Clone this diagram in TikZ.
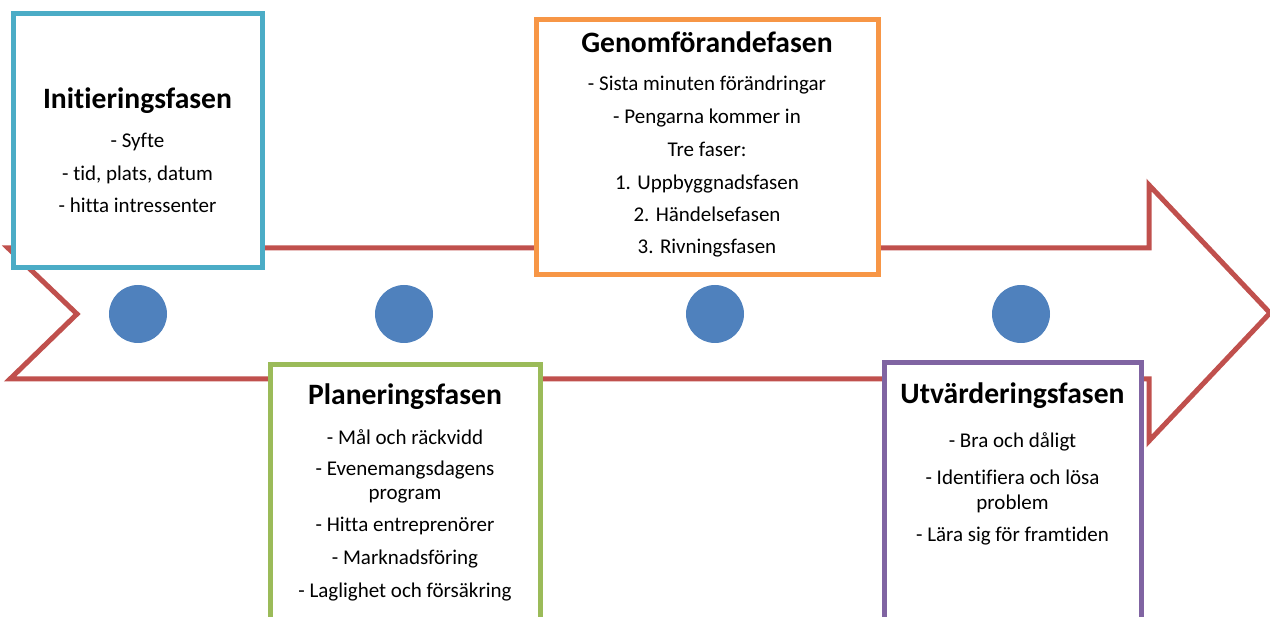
\documentclass[tikz,border=0pt]{standalone}
\usepackage{fontspec}
\setmainfont[Ligatures={NoCommon}]{Carlito}
\definecolor{cCyan}{HTML}{4BACC6}
\definecolor{cOrange}{HTML}{F79646}
\definecolor{cGreen}{HTML}{9BBB59}
\definecolor{cPurple}{HTML}{8064A2}
\definecolor{cRed}{HTML}{C0504D}
\definecolor{cBlue}{HTML}{4F81BD}
\begin{document}
\begin{tikzpicture}[x=1pt,y=-1pt,
  arrowline/.style={draw=cRed,line width=5pt,line join=miter},
  phasebox/.style={draw,fill=white,line width=5pt,rectangle,inner sep=0pt},
  dot/.style={circle,fill=cBlue,minimum size=58pt,inner sep=0pt},
  ttl/.style={anchor=base,font=\fontsize{29.6}{34}\selectfont\bfseries,inner sep=0pt},
  itm/.style={anchor=base,font=\fontsize{21}{24}\selectfont,inner sep=0pt}]
\useasboundingbox (0,0) rectangle (1270,617);
% big arrow
\coordinate (a1) at (8,248);
\coordinate (a2) at (1149,248);
\coordinate (a3) at (1149,185);
\coordinate (a4) at (1270,313);
\coordinate (a5) at (1149,441);
\coordinate (a6) at (1149,379);
\coordinate (a7) at (10,379);
\coordinate (a8) at (77,314);
\draw[arrowline] (a1) -- (a2) -- (a3) -- (a4) -- (a5) -- (a6) -- (a7) -- (a8) -- cycle;
% boxes
\node[phasebox,draw=cCyan,minimum width=248.5pt,minimum height=254pt] (init) at (137.75,141) {};
\node[phasebox,draw=cOrange,minimum width=342pt,minimum height=255pt] (genom) at (707,147.5) {};
\node[phasebox,draw=cGreen,minimum width=270pt,minimum height=275pt] (plan) at (405,502.5) {};
\node[phasebox,draw=cPurple,minimum width=257pt,minimum height=277pt] (utv) at (1012.5,501.5) {};
% dots
\node[dot] (d1) at (138,314) {};
\node[dot] (d2) at (404,314) {};
\node[dot] (d3) at (715,314) {};
\node[dot] (d4) at (1021,314) {};
% Initieringsfasen
\node[ttl] (t1) at (137.5,109) {Initieringsfasen};
\node[itm] (i1) at (137.5,148) {- Syfte};
\node[itm] (i2) at (137.5,180.5) {- tid, plats, datum};
\node[itm] (i3) at (137.5,213) {- hitta intressenter};
% Genomforandefasen
\node[ttl] (t2) at (707,53) {Genomförandefasen};
\node[itm] (g1) at (707,91) {- Sista minuten förändringar};
\node[itm] (g2) at (707,123.5) {- Pengarna kommer in};
\node[itm] (g3) at (707,157) {Tre faser:};
\node[itm] (g4) at (707,190) {1. Uppbyggnadsfasen};
\node[itm] (g5) at (707,221.5) {2. Händelsefasen};
\node[itm] (g6) at (707,254) {3. Rivningsfasen};
% Planeringsfasen
\node[ttl] (t3) at (405,405) {Planeringsfasen};
\node[itm] (p1) at (405,444.5) {- Mål och räckvidd};
\node[itm] (p2) at (405,476) {- Evenemangsdagens};
\node[itm] (p2b) at (405,500) {program};
\node[itm] (p3) at (405,532) {- Hitta entreprenörer};
\node[itm] (p4) at (405,564) {- Marknadsföring};
\node[itm] (p5) at (405,597) {- Laglighet och försäkring};
% Utvarderingsfasen
\node[ttl] (t4) at (1012.5,403.5) {Utvärderingsfasen};
\node[itm] (u1) at (1012.5,447.5) {- Bra och dåligt};
\node[itm] (u2) at (1012.5,485) {- Identifiera och lösa};
\node[itm] (u2b) at (1012.5,509.5) {problem};
\node[itm] (u3) at (1012.5,541.5) {- Lära sig för framtiden};
\end{tikzpicture}
\end{document}
